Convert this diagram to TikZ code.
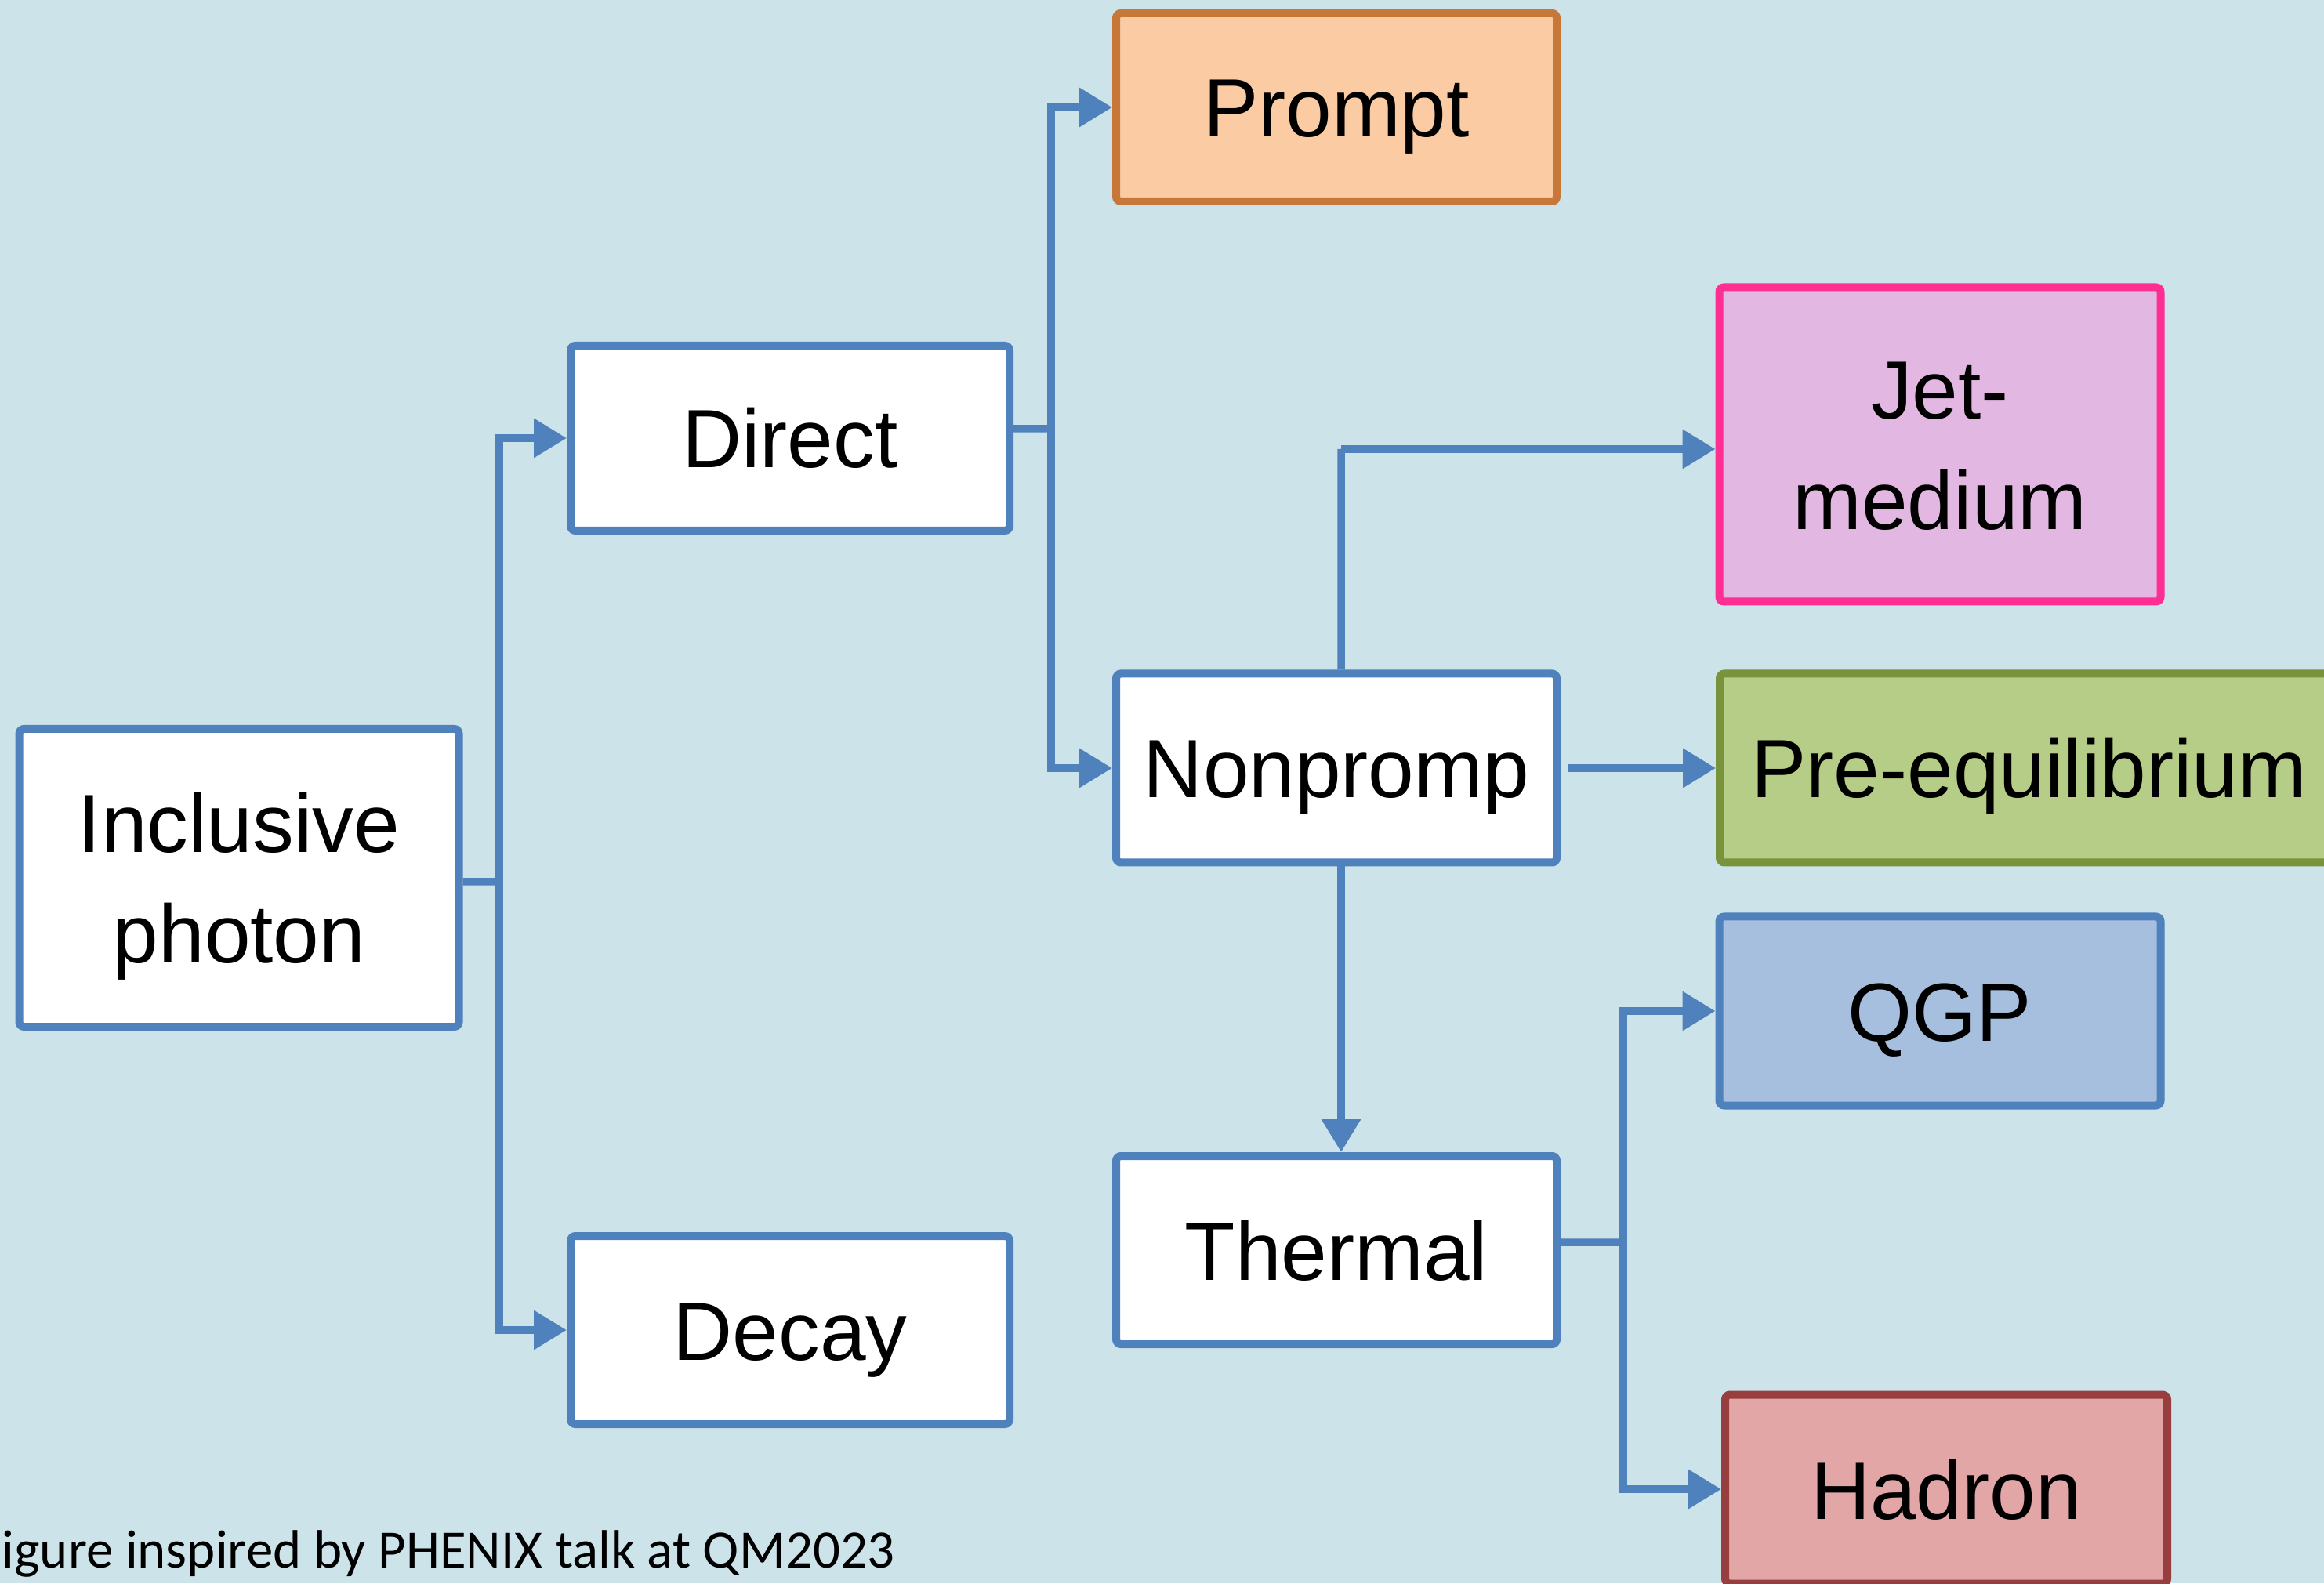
\documentclass[tikz,border=0pt]{standalone}
\usepackage{fontspec}
\setmainfont{Liberation Sans}
\newfontfamily\footfont{Carlito}
\usetikzlibrary{arrows.meta}
\definecolor{bgc}{HTML}{CDE3EA}
\definecolor{lblue}{HTML}{4F81BD}
\definecolor{promptfill}{HTML}{FBCBA3}
\definecolor{promptdraw}{HTML}{C77838}
\definecolor{jetfill}{HTML}{E2B8E2}
\definecolor{jetdraw}{HTML}{FF2E93}
\definecolor{prefill}{HTML}{B6CD87}
\definecolor{predraw}{HTML}{77933C}
\definecolor{qgpfill}{HTML}{A7BFDE}
\definecolor{hadfill}{HTML}{E2A6A6}
\definecolor{haddraw}{HTML}{993E3E}
\begin{document}
\begin{tikzpicture}[
  box/.style={draw=lblue, fill=white, line width=1mm, rounded corners=0.6mm,
    align=center, inner sep=0pt, font=\fontsize{30}{40}\selectfont},
  one/.style={text height=0.98cm, text depth=0.22cm},
  two/.style={text height=2.47cm, text depth=0.30cm},
  conn/.style={draw=lblue, line width=0.95mm},
  arr/.style={conn, -{Triangle[length=4.2mm,width=4.8mm]}},
]
\useasboundingbox (0,0) rectangle (29.65,20.20);
\clip (0,0) rectangle (29.65,20.20);
\fill[bgc] (0,0) rectangle (29.65,20.20);

\node[box, two, minimum width=5.61cm, minimum height=3.80cm] (incl) at (3.05,9.00) {Inclusive\\photon};
\node[box, one, minimum width=5.60cm, minimum height=2.36cm] (direct) at (10.08,14.61) {Direct};
\node[box, one, minimum width=5.60cm, minimum height=2.40cm] (decay) at (10.08,3.23) {Decay};
\node[box, one, minimum width=5.62cm, minimum height=2.40cm, fill=promptfill, draw=promptdraw] (prompt) at (17.05,18.83) {Prompt};
\node[box, one, minimum width=5.62cm, minimum height=2.41cm] (nonp) at (17.05,10.40) {Nonpromp};
\node[box, one, minimum width=5.62cm, minimum height=2.40cm] (thermal) at (17.05,4.25) {Thermal};
\node[box, two, minimum width=5.63cm, minimum height=4.01cm, fill=jetfill, draw=jetdraw] (jet) at (24.75,14.53) {Jet-\\medium};
\node[box, one, minimum width=7.90cm, minimum height=2.41cm, fill=prefill, draw=predraw] (pre) at (25.89,10.40) {Pre-equilibrium};
\node[box, one, minimum width=5.63cm, minimum height=2.41cm, fill=qgpfill] (qgp) at (24.75,7.30) {QGP};
\node[box, one, minimum width=5.64cm, minimum height=2.41cm, fill=hadfill, draw=haddraw] (hadron) at (24.83,1.20) {Hadron};

\coordinate (j1) at (6.37,8.95);
\coordinate (j2) at (13.41,14.73);
\coordinate (j3) at (17.11,14.47);
\coordinate (j4) at (20.71,4.35);

\draw[conn] ([yshift=-0.5mm]incl.east) -- (j1);
\draw[arr] (j1) |- (direct.west);
\draw[arr] (j1) |- (decay.west);

\draw[conn] ([yshift=1.2mm]direct.east) -- (j2);
\draw[arr] (j2) |- (prompt.west);
\draw[arr] (j2) |- (nonp.west);

\draw[conn] ([xshift=0.6mm]nonp.north) -- (j3);
\draw[arr] (j3) -- (j3 -| jet.west);
\draw[arr] ([xshift=1mm]nonp.east) -- (pre.west);
\draw[arr] ([xshift=0.6mm]nonp.south) -- ([xshift=0.6mm]thermal.north);

\draw[conn] ([yshift=1mm]thermal.east) -- (j4);
\draw[arr] (j4) |- (qgp.west);
\draw[arr] (j4) |- (hadron.west);

\node[font=\footfont\fontsize{19.6}{24}\selectfont, anchor=base west, inner sep=0pt] (foot) at (0.02,0.20) {igure inspired by PHENIX talk at QM2023};
\end{tikzpicture}
\end{document}
